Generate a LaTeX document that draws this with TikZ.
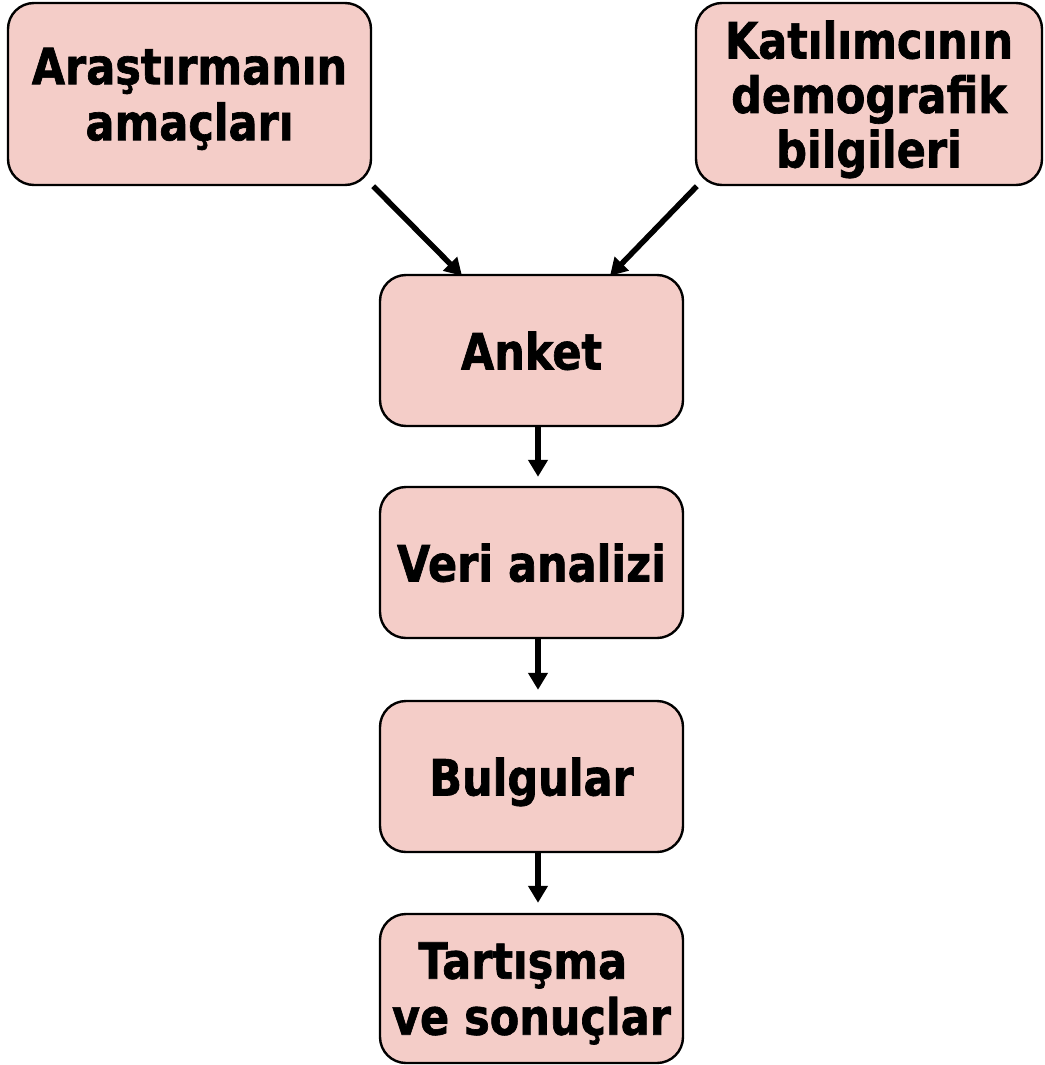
\documentclass[tikz,border=0pt]{standalone}
\usepackage{fontspec}
\newfontfamily\boxfont{DejaVu Sans Bold}[FakeStretch=0.86, FakeBold=1.3]
\usetikzlibrary{arrows.meta}
\definecolor{boxpink}{RGB}{244,205,200}
\tikzset{
  stagebox/.style={draw=black, line width=2.4pt, fill=boxpink, rounded corners=26pt,
    align=center, inner sep=0pt, text depth=0pt,
    font=\boxfont\fontsize{50}{56}\selectfont},
  flowarrow/.style={line width=5.5pt, -{Triangle[length=17pt,width=19pt]}}
}
\begin{document}
\begin{tikzpicture}[x=1pt,y=-1pt]
\useasboundingbox (0,0) rectangle (1044,1065);
\node[stagebox, minimum width=363pt, minimum height=182pt] (amac) at (189.5,94) {Araştırmanın\\amaçları};
\node[stagebox, minimum width=346pt, minimum height=182pt,
  font=\boxfont\fontsize{50}{54.5}\selectfont] (demo) at (869,94) {Katılımcının\\demografik\\bilgileri};
\node[stagebox, minimum width=303pt, minimum height=151pt] (anket) at (531.5,350.5) {Anket};
\node[stagebox, minimum width=303pt, minimum height=151pt] (veri) at (531.5,562.5) {Veri analizi};
\node[stagebox, minimum width=303pt, minimum height=151pt] (bulgu) at (531.5,776.5) {Bulgular};
\node[stagebox, minimum width=303pt, minimum height=149pt] (tart) at (531.5,988.5) {Tartışma\hspace*{0.35em}\\ve sonuçlar};
\draw[flowarrow] ([xshift=1pt]amac.south east) -- ([xshift=-69.5pt,yshift=-2pt]anket.north);
\draw[flowarrow] ([xshift=2pt]demo.south west) -- ([xshift=78.5pt,yshift=-2pt]anket.north);
\draw[flowarrow, shorten >=9pt] ([xshift=6.5pt]anket.south) -- ([xshift=6.5pt]veri.north);
\draw[flowarrow, shorten >=10pt] ([xshift=6.5pt]veri.south) -- ([xshift=6.5pt]bulgu.north);
\draw[flowarrow, shorten >=10pt] ([xshift=6.5pt]bulgu.south) -- ([xshift=6.5pt]tart.north);
\end{tikzpicture}
\end{document}
